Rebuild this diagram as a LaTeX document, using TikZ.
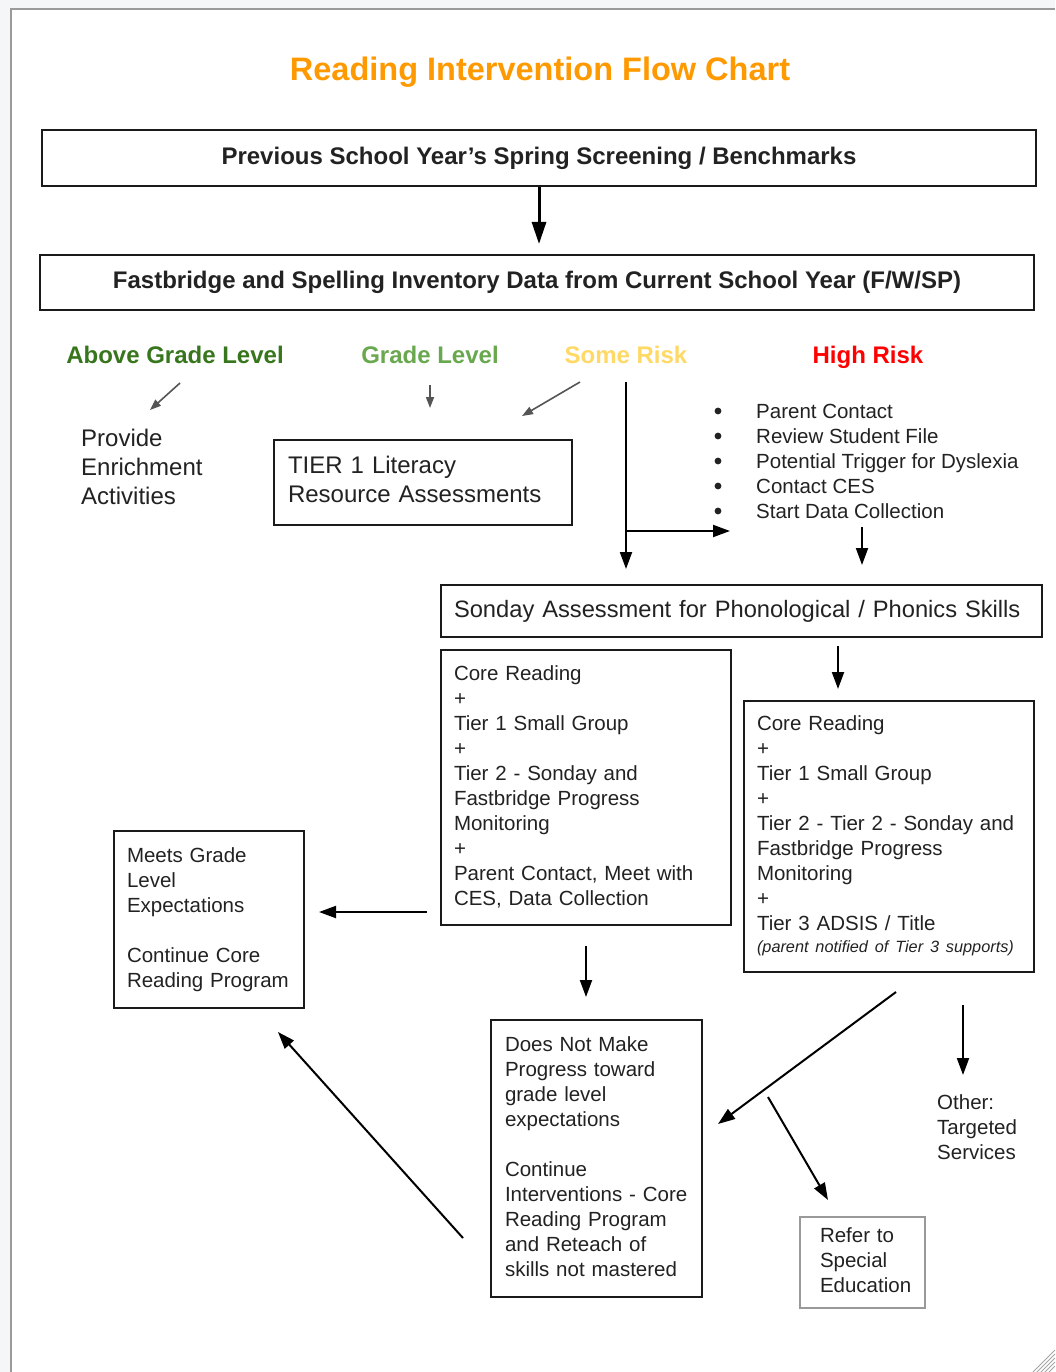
\documentclass[tikz,border=0pt]{standalone}
\usepackage{fontspec}
\setmainfont{Liberation Sans}
\usetikzlibrary{arrows.meta}
\definecolor{ttl}{HTML}{FF9900}
\definecolor{cabove}{HTML}{38761D}
\definecolor{cgrade}{HTML}{6AA84F}
\definecolor{csome}{HTML}{FFD966}
\definecolor{chigh}{HTML}{FF0000}
\definecolor{boxc}{HTML}{1A1A1A}
\definecolor{refc}{HTML}{999999}
\definecolor{txt}{HTML}{222222}
\definecolor{thinc}{HTML}{555555}
\definecolor{pagebg}{HTML}{F5F6F8}
\definecolor{pageline}{HTML}{9A9A9A}
\newcommand\tlines[1]{\begin{tabular}{@{}l@{}}#1\end{tabular}}
\newcommand\bodyfont{\fontsize{20.5}{25}\selectfont}
\newcommand\bigfont{\fontsize{24}{29}\selectfont}
\begin{document}
\begin{tikzpicture}[x=1pt,y=-1pt,
  box/.style={draw=boxc, line width=2pt, inner sep=0pt, text=txt, font=\bodyfont, align=left},
  lab/.style={font=\bigfont\bfseries, inner sep=0pt, anchor=base},
  free/.style={anchor=north west, inner sep=0pt, text=txt, align=left},
  arr/.style={draw=black, line width=2pt, -{Triangle[length=17pt,width=12pt]}},
  bigarr/.style={draw=black, line width=3pt, -{Triangle[length=22pt,width=14pt]}},
  thinarr/.style={draw=thinc, line width=1.6pt, -{Triangle[length=11pt,width=8pt]}}]
\useasboundingbox (0,0) rectangle (1055,1372);
\fill[pagebg] (0,0) rectangle (1055,1372);
\fill[white] (11,9) rectangle (1055,1372);
\draw[pageline, line width=2pt] (11,1372) -- (11,9) -- (1055,9);
\foreach \d in {6,10,14,18,22}
  \draw[gray!70, line width=0.8pt] (1055-\d,1372) -- (1055,1372-\d);

\node[font=\fontsize{32.5}{38}\selectfont\bfseries, text=ttl] (title) at (540,72.5) {Reading Intervention Flow Chart};

\node[box, align=center, minimum width=994pt, minimum height=56pt, font=\bigfont\bfseries] (b1) at (539,158) {Previous School Year's Spring Screening / Benchmarks};
\node[box, align=center, minimum width=994pt, minimum height=55pt, font=\bigfont\bfseries] (b2) at (537,282.5) {Fastbridge and Spelling Inventory Data from Current School Year (F/W/SP)};

\node[lab, text=cabove] (lab1) at (175,363) {Above Grade Level};
\node[lab, text=cgrade] (lab2) at (430,363) {Grade Level};
\node[lab, text=csome] (lab3) at (626,363) {Some Risk};
\node[lab, text=chigh] (lab4) at (868,363) {High Risk};

\node[free, font=\bigfont] (enrich) at (81,426) {\tlines{Provide\\Enrichment\\Activities}};
\node[box, font=\bigfont, minimum width=298pt, minimum height=85pt, text width=270pt] (tier1) at (423,482.5) {\tlines{TIER 1 Literacy\\Resource Assessments}};

\node[free, font=\bodyfont] (risk) at (756,400.5) {\tlines{Parent Contact\\Review Student File\\Potential Trigger for Dyslexia\\Contact CES\\Start Data Collection}};
\foreach \k in {0,...,4}
  \fill[txt] (718,411+25*\k) circle (3.4pt);

\node[box, font=\fontsize{23.7}{29}\selectfont, minimum width=601pt, minimum height=52pt, text width=575pt] (sonday) at (741.5,611) {Sonday Assessment for Phonological / Phonics Skills};

\node[box, minimum width=290pt, minimum height=275pt, text width=264pt] (coreL) at (586,787.5) {\tlines{Core Reading\\+\\Tier 1 Small Group\\+\\Tier 2 - Sonday and\\Fastbridge Progress\\Monitoring\\+\\Parent Contact, Meet with\\CES, Data Collection}};

\node[box, minimum width=290pt, minimum height=271pt, text width=264pt] (coreR) at (889,836.5) {\tlines{Core Reading\\+\\Tier 1 Small Group\\+\\Tier 2 - Tier 2 - Sonday and\\Fastbridge Progress\\Monitoring\\+\\Tier 3 ADSIS / Title\\[-3pt]{\fontsize{16.3}{19}\selectfont\itshape (parent notified of Tier 3 supports)}}};

\node[box, minimum width=190pt, minimum height=177pt, text width=164pt] (meets) at (209,919.5) {\tlines{Meets Grade\\Level\\Expectations\\ \\Continue Core\\Reading Program}};

\node[box, minimum width=211pt, minimum height=277pt, text width=183pt] (dnm) at (596.5,1158.5) {\tlines{Does Not Make\\Progress toward\\grade level\\expectations\\ \\Continue\\Interventions - Core\\Reading Program\\and Reteach of\\skills not mastered}};

\node[box, draw=refc, line width=1.5pt, minimum width=125pt, minimum height=91pt, text width=85pt] (refer) at (862.5,1262.5) {\tlines{Refer to\\Special\\Education}};

\node[free, font=\bodyfont] (other) at (937,1091.5) {\tlines{Other:\\Targeted\\Services}};

% connectors
\draw[bigarr, shorten >=10pt] (b1.south) -- (b1.south |- b2.north);

\coordinate (a1s) at (180,383); \coordinate (a1e) at (150,410);
\coordinate (a2s) at (430,385); \coordinate (a2e) at (430,408);
\coordinate (a3s) at (580,382); \coordinate (a3e) at (522,416);
\draw[thinarr] (a1s) -- (a1e);
\draw[thinarr] (a2s) -- (a2e);
\draw[thinarr] (a3s) -- (a3e);

\coordinate (srtop) at (626,382);
\coordinate (srmid) at (626,531);
\coordinate (srend) at (730,531);
\draw[arr, shorten >=15pt] (srtop) -- (srtop |- sonday.north);
\draw[arr] (srmid) -- (srend);

\coordinate (rk) at (862,527);
\draw[arr, shorten >=19pt] (rk) -- (rk |- sonday.north);

\coordinate (sc) at (838,0);
\draw[arr, shorten <=8pt, shorten >=11pt] (sonday.south -| sc) -- (coreR.north -| sc);

\coordinate (y912) at (0,912);
\draw[arr, shorten <=13pt, shorten >=14pt] (coreL.west |- y912) -- (meets.east |- y912);

\draw[arr, shorten <=20pt, shorten >=22pt] (coreL.south) -- (coreL.south |- dnm.north);

\coordinate (cr1) at (896,992); \coordinate (cr2) at (718,1124);
\draw[arr] (cr1) -- (cr2);
\coordinate (cr3) at (768,1097); \coordinate (cr4) at (828,1200);
\draw[arr] (cr3) -- (cr4);
\coordinate (cr5) at (963,1005); \coordinate (cr6) at (963,1075);
\draw[arr] (cr5) -- (cr6);
\coordinate (dm1) at (463,1238); \coordinate (dm2) at (278,1032);
\draw[arr] (dm1) -- (dm2);
\end{tikzpicture}
\end{document}
